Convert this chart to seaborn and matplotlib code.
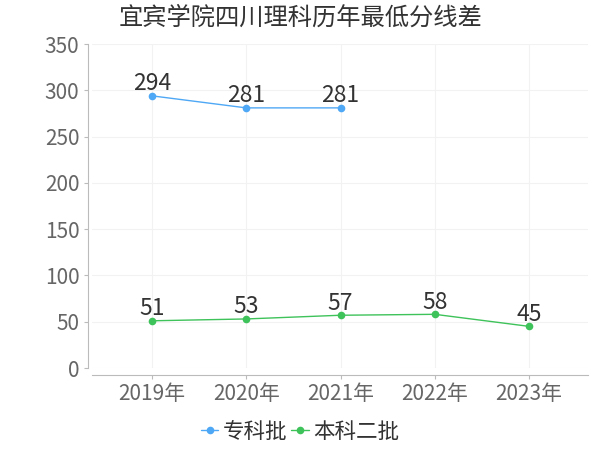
import matplotlib
matplotlib.use("Agg")
import matplotlib.pyplot as plt
import seaborn as sns
import pandas as pd

years = ["2019年", "2020年", "2021年", "2022年", "2023年"]
zhuanke_years = ["2019年", "2020年", "2021年"]
zhuanke = [294, 281, 281]
benke2 = [51, 53, 57, 58, 45]
series_names = ["专科批", "本科二批"]
title = "宜宾学院四川理科历年最低分线差"
yticks = [0, 50, 100, 150, 200, 250, 300, 350]

sns.set_theme(style="white")
plt.rcParams['font.family'] = ['Noto Sans CJK SC', 'DejaVu Sans']

df = pd.concat([
    pd.DataFrame({"year": zhuanke_years, "score": zhuanke, "batch": series_names[0]}),
    pd.DataFrame({"year": years, "score": benke2, "batch": series_names[1]}),
])
pos = {y: i for i, y in enumerate(years)}
df["x"] = df["year"].map(pos)

colors = {"专科批": "#4fa8f5", "本科二批": "#3ec25a"}

fig = plt.figure(figsize=(6, 4.5), dpi=100)
ax = fig.add_axes([0.1533, 0.1822, 0.8267, 0.72])

sns.lineplot(data=df, x="x", y="score", hue="batch", palette=colors,
             marker="o", markersize=5.5, markeredgewidth=0, linewidth=1,
             ax=ax, legend=True, hue_order=series_names)

for _, r in df.iterrows():
    ax.annotate(str(r["score"]), (r["x"], r["score"]), xytext=(0, 4),
                textcoords="offset points", ha="center", va="baseline",
                fontsize=16.5, color="#333333")

ax.set_xlim(-0.637, 4.626)
ax.set_ylim(0, 350)
ax.set_yticks(yticks)
ax.set_xticks(range(len(years)))
ax.set_xticklabels(years)
ax.set_xlabel("")
ax.set_ylabel("")
ax.grid(True, color="#f2f2f2", linewidth=0.8)
ax.set_axisbelow(True)

for s in ["top", "right"]:
    ax.spines[s].set_visible(False)
ax.spines["left"].set_position(("outward", 3))
ax.spines["bottom"].set_position(("outward", 5))
ax.spines["left"].set_color("#bbbbbb")
ax.spines["bottom"].set_color("#bbbbbb")
ax.spines["left"].set_linewidth(0.8)
ax.spines["bottom"].set_linewidth(0.8)
ax.tick_params(axis="both", which="both", length=3, width=0.8, color="#bbbbbb",
               labelsize=15, labelcolor="#666666", left=True, bottom=True, pad=3)

fig.text(0.5, 0.96, title, ha="center", va="center", fontsize=17.5, color="#333333")

handles, labels = ax.get_legend_handles_labels()
ax.legend(handles, labels, loc="center", ncol=2, frameon=False, fontsize=15.5,
          handlelength=0.8, handletextpad=0.2, columnspacing=0.2,
          labelcolor="#333333", bbox_to_anchor=(0.5, 1 - 432 / 450),
          bbox_transform=fig.transFigure)

fig.savefig("out.png", dpi=100)
